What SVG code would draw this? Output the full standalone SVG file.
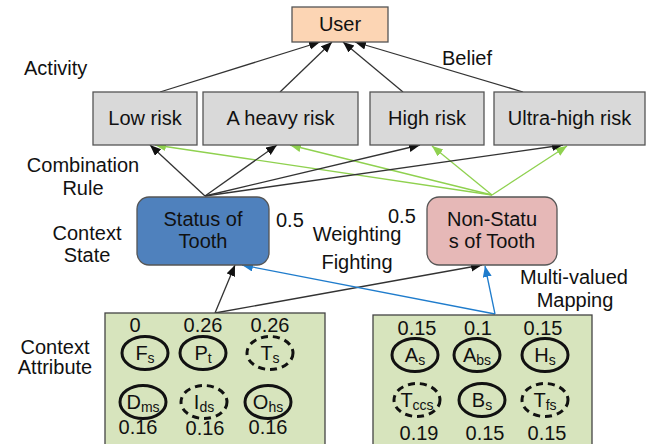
<svg xmlns="http://www.w3.org/2000/svg" width="648" height="444" viewBox="0 0 648 444">
  <defs>
    <marker id="ah-black" markerUnits="userSpaceOnUse" markerWidth="12" markerHeight="10" refX="11" refY="4.5" orient="auto">
      <path d="M0,0 L11,4.5 L0,9 z" fill="#111"/>
    </marker>
    <marker id="ah-green" markerUnits="userSpaceOnUse" markerWidth="12" markerHeight="10" refX="11" refY="4.5" orient="auto">
      <path d="M0,0 L11,4.5 L0,9 z" fill="#8fd14f"/>
    </marker>
    <marker id="ah-blue" markerUnits="userSpaceOnUse" markerWidth="12" markerHeight="10" refX="11" refY="4.5" orient="auto">
      <path d="M0,0 L11,4.5 L0,9 z" fill="#1f7ccc"/>
    </marker>
  </defs>
  <style>
    text { font-family: "Liberation Sans", Arial, sans-serif; font-size: 20px; fill: #111; }
    .mid { text-anchor: middle; }
    .box { stroke: #555; stroke-width: 1.3; }
    .risk { fill: #d9d9d9; }
    .attr { fill: #d7e4bd; stroke: #444; stroke-width: 1.3; }
    .c { fill: none; stroke: #111; stroke-width: 3; }
    .dash { stroke-dasharray: 7 5; }
    .sub { font-size: 14px; }
    .k { stroke: #333; stroke-width: 1.3; fill: none; marker-end: url(#ah-black); }
    .g { stroke: #8fd14f; stroke-width: 1.3; fill: none; marker-end: url(#ah-green); }
    .b { stroke: #1f7ccc; stroke-width: 1.3; fill: none; marker-end: url(#ah-blue); }
  </style>

  <rect width="648" height="444" fill="#fff"/>

  <!-- side labels -->
  <g id="labels">
    <text x="24" y="75">Activity</text>
    <text x="442" y="65">Belief</text>
    <text class="mid" x="83" y="172">Combination</text>
    <text class="mid" x="83" y="195">Rule</text>
    <text class="mid" x="87" y="240">Context</text>
    <text class="mid" x="87" y="262">State</text>
    <text x="276" y="227">0.5</text>
    <text x="388" y="223">0.5</text>
    <text class="mid" x="357" y="241">Weighting</text>
    <text class="mid" x="357" y="269">Fighting</text>
    <text class="mid" x="574" y="284">Multi-valued</text>
    <text class="mid" x="575" y="307">Mapping</text>
    <text class="mid" x="55" y="354">Context</text>
    <text class="mid" x="55" y="374">Attribute</text>
  </g>

  <!-- connectors -->
  <g id="connectors">
    <line class="k" x1="160" y1="92" x2="320" y2="42"/>
    <line class="k" x1="280" y1="92" x2="332" y2="42"/>
    <line class="k" x1="403" y1="92" x2="343" y2="42"/>
    <line class="k" x1="523" y1="92" x2="355" y2="42"/>
    <line class="g" x1="492" y1="195" x2="155" y2="145"/>
    <line class="g" x1="492" y1="195" x2="290" y2="145"/>
    <line class="g" x1="492" y1="195" x2="432" y2="146"/>
    <line class="g" x1="492" y1="195" x2="567" y2="146"/>
    <line class="k" x1="205" y1="196" x2="150" y2="145"/>
    <line class="k" x1="205" y1="196" x2="277" y2="145"/>
    <line class="k" x1="205" y1="196" x2="420" y2="145"/>
    <line class="k" x1="205" y1="196" x2="563" y2="145"/>
    <line class="k" x1="215" y1="313" x2="235" y2="265"/>
    <line class="k" x1="215" y1="313" x2="482" y2="265"/>
    <line class="b" x1="495" y1="314" x2="242" y2="265"/>
    <line class="b" x1="495" y1="314" x2="485" y2="266"/>
  </g>

  <!-- top node -->
  <g id="user">
    <rect class="box" x="292" y="7" width="96" height="35" fill="#fcd5b4"/>
    <text class="mid" x="340" y="31">User</text>
  </g>

  <!-- risk levels -->
  <g id="low-risk">
    <rect class="box risk" x="93" y="92" width="104" height="53"/>
    <text class="mid" x="145" y="125">Low risk</text>
  </g>
  <g id="heavy-risk">
    <rect class="box risk" x="203" y="92" width="155" height="53"/>
    <text class="mid" x="280.5" y="125">A heavy risk</text>
  </g>
  <g id="high-risk">
    <rect class="box risk" x="370" y="92" width="114" height="53"/>
    <text class="mid" x="427" y="125">High risk</text>
  </g>
  <g id="ultra-high-risk">
    <rect class="box risk" x="494" y="92" width="151" height="53"/>
    <text class="mid" x="569.5" y="125">Ultra-high risk</text>
  </g>

  <!-- context states -->
  <g id="status">
    <rect class="box" x="137" y="197" width="132" height="68" rx="12" fill="#4f81bd" stroke="#333"/>
    <text class="mid" x="203" y="226">Status of</text>
    <text class="mid" x="203" y="248">Tooth</text>
  </g>
  <g id="non-status">
    <rect class="box" x="427" y="197" width="130" height="68" rx="12" fill="#e6b8b7" stroke="#333"/>
    <text class="mid" x="492" y="226">Non-Statu</text>
    <text class="mid" x="492" y="248">s of Tooth</text>
  </g>

  <!-- context attributes, left group -->
  <g id="attributes-status">
    <rect class="attr" x="105" y="313" width="220" height="135"/>
    <text class="mid" x="135" y="332">0</text>
    <text class="mid" x="203" y="332">0.26</text>
    <text class="mid" x="270" y="332">0.26</text>
    <ellipse class="c" cx="145" cy="353" rx="23" ry="16.5"/>
    <ellipse class="c" cx="203" cy="353" rx="23" ry="16.5"/>
    <ellipse class="c dash" cx="270" cy="353" rx="23" ry="16.5"/>
    <text class="mid" x="145" y="360">F<tspan class="sub" dy="3">s</tspan></text>
    <text class="mid" x="203" y="360">P<tspan class="sub" dy="3">t</tspan></text>
    <text class="mid" x="270" y="360">T<tspan class="sub" dy="3">s</tspan></text>
    <ellipse class="c" cx="143" cy="402" rx="23" ry="16.5"/>
    <ellipse class="c dash" cx="204" cy="402" rx="23" ry="16.5"/>
    <ellipse class="c" cx="268" cy="402" rx="23" ry="16.5"/>
    <text class="mid" x="143" y="409">D<tspan class="sub" dy="3">ms</tspan></text>
    <text class="mid" x="204" y="409">I<tspan class="sub" dy="3">ds</tspan></text>
    <text class="mid" x="268" y="409">O<tspan class="sub" dy="3">hs</tspan></text>
    <text class="mid" x="138" y="434">0.16</text>
    <text class="mid" x="205" y="435">0.16</text>
    <text class="mid" x="268" y="434">0.16</text>
  </g>

  <!-- context attributes, right group -->
  <g id="attributes-non-status">
    <rect class="attr" x="373" y="315" width="219" height="133"/>
    <text class="mid" x="417" y="335">0.15</text>
    <text class="mid" x="478" y="335">0.1</text>
    <text class="mid" x="543" y="335">0.15</text>
    <ellipse class="c" cx="415" cy="355" rx="23" ry="16.5"/>
    <ellipse class="c" cx="477" cy="355" rx="23" ry="16.5"/>
    <ellipse class="c" cx="545" cy="355" rx="23" ry="16.5"/>
    <text class="mid" x="415" y="362">A<tspan class="sub" dy="3">s</tspan></text>
    <text class="mid" x="477" y="362">A<tspan class="sub" dy="3">bs</tspan></text>
    <text class="mid" x="545" y="362">H<tspan class="sub" dy="3">s</tspan></text>
    <ellipse class="c dash" cx="417" cy="400" rx="23" ry="16.5"/>
    <ellipse class="c" cx="482" cy="400" rx="23" ry="16.5"/>
    <ellipse class="c dash" cx="545" cy="400" rx="23" ry="16.5"/>
    <text class="mid" x="417" y="407">T<tspan class="sub" dy="3">ccs</tspan></text>
    <text class="mid" x="482" y="407">B<tspan class="sub" dy="3">s</tspan></text>
    <text class="mid" x="545" y="407">T<tspan class="sub" dy="3">fs</tspan></text>
    <text class="mid" x="419" y="440">0.19</text>
    <text class="mid" x="485" y="440">0.15</text>
    <text class="mid" x="547" y="440">0.15</text>
  </g>
</svg>
